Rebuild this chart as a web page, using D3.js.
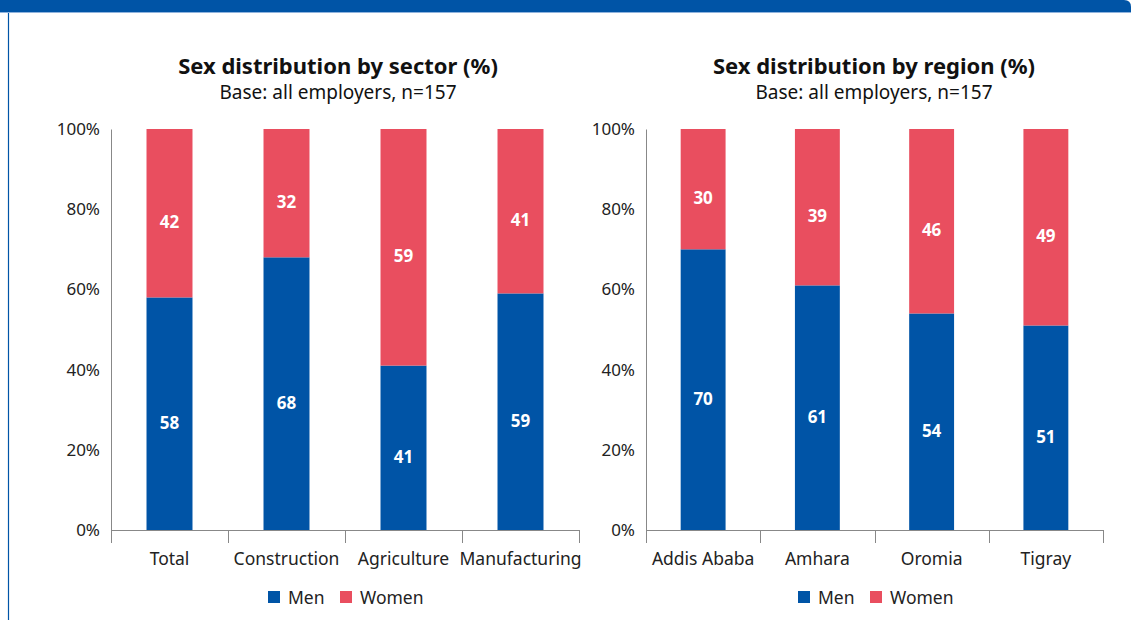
<!DOCTYPE html>
<html>
<head>
<meta charset="utf-8">
<script src="https://cdn.jsdelivr.net/npm/d3@7"></script>
<style>
  body { margin: 0; background: #fff; }
  svg { display: block; font-family: "Noto Sans", "Open Sans", sans-serif; }
</style>
</head>
<body>
<div id="chart"></div>
<script>
// data
const sectors = ["Total", "Construction", "Agriculture", "Manufacturing"];
const sectorMen = [58, 68, 41, 59];
const sectorWomen = [42, 32, 59, 41];

const regions = ["Addis Ababa", "Amhara", "Oromia", "Tigray"];
const regionMen = [70, 61, 54, 51];
const regionWomen = [30, 39, 46, 49];

const yTicks = [0, 20, 40, 60, 80, 100];
const seriesNames = ["Men", "Women"];

const blue = "#0054a6";
const pink = "#e94e5f";

const W = 1131, H = 620;
const svg = d3.select("#chart").append("svg")
  .attr("width", W)
  .attr("height", H);

// header bar + frame
svg.append("path")
  .attr("d", `M0,0 H1124 Q1131,0 1131,7 V12 H0 Z`)
  .attr("fill", blue);
svg.append("line")
  .attr("x1", 0).attr("x2", W).attr("y1", 12.5).attr("y2", 12.5)
  .attr("stroke", "#8fb3dd").attr("stroke-width", 1);
svg.append("line")
  .attr("x1", 8.5).attr("x2", 8.5).attr("y1", 13).attr("y2", H)
  .attr("stroke", blue).attr("stroke-width", 1.2);

const yScale = d3.scaleLinear().domain([0, 100]).range([530, 129]);

function panel(opts) {
  const { cats, men, women, x0, x1, title, cx, legendX } = opts;
  const g = svg.append("g");

  const x = d3.scaleBand()
    .domain(cats)
    .range([x0, x1])
    .paddingInner(0.607)
    .paddingOuter(0.3035);

  // titles
  g.append("text")
    .attr("x", cx).attr("y", 74)
    .attr("text-anchor", "middle")
    .style("font-size", "22px").style("font-weight", "bold").style("fill", "#111")
    .text(title);
  g.append("text")
    .attr("x", cx).attr("y", 99)
    .attr("text-anchor", "middle")
    .style("font-size", "19px").style("fill", "#111")
    .text("Base: all employers, n=157");

  // y axis
  const yAxis = d3.axisLeft(yScale)
    .tickValues(yTicks)
    .tickSize(0)
    .tickPadding(11)
    .tickFormat(d => d + "%");
  const ya = g.append("g")
    .attr("transform", `translate(${x0},0)`)
    .call(yAxis);
  ya.select(".domain").attr("stroke", "#888");
  ya.selectAll("text").style("font-size", "17px").style("fill", "#222")
    .style("font-family", "'Noto Sans', sans-serif");

  // stacked bars
  const rows = cats.map((c, i) => ({ cat: c, men: men[i], women: women[i] }));
  const stack = d3.stack().keys(["men", "women"])(rows);
  const colors = [blue, pink];

  stack.forEach((layer, li) => {
    g.selectAll(null)
      .data(layer)
      .enter()
      .append("rect")
      .attr("x", d => x(d.data.cat))
      .attr("width", x.bandwidth())
      .attr("y", d => yScale(d[1]))
      .attr("height", d => yScale(d[0]) - yScale(d[1]))
      .attr("fill", colors[li]);

    g.selectAll(null)
      .data(layer)
      .enter()
      .append("text")
      .attr("x", d => x(d.data.cat) + x.bandwidth() / 2)
      .attr("y", d => (yScale(d[0]) + yScale(d[1])) / 2 + 15)
      .attr("text-anchor", "middle")
      .style("font-size", "17px").style("font-weight", "bold").style("fill", "#fff")
      .text(d => d[1] - d[0]);
  });

  // x axis
  const xa = g.append("g")
    .attr("transform", "translate(0,530)")
    .call(d3.axisBottom(x).tickSize(0).tickPadding(23));
  xa.select(".domain").attr("stroke", "#888").attr("d", `M${x0},0.5H${x1}`);
  xa.selectAll("text").style("font-size", "17.5px").style("fill", "#222")
    .style("font-family", "'Noto Sans', sans-serif");
  const bounds = [x0].concat(cats.map(c => x(c) + x.bandwidth() / 2 + x.step() / 2));
  xa.selectAll(".sep")
    .data(bounds)
    .enter()
    .append("line")
    .attr("x1", d => Math.round(d) + 0.5).attr("x2", d => Math.round(d) + 0.5)
    .attr("y1", 0).attr("y2", 13)
    .attr("stroke", "#888");

  // legend
  const lg = g.append("g").attr("transform", `translate(${legendX},591)`);
  const offs = [0, 72];
  seriesNames.forEach((s, i) => {
    lg.append("rect")
      .attr("x", offs[i]).attr("y", 0)
      .attr("width", 12).attr("height", 12)
      .attr("fill", colors[i]);
    lg.append("text")
      .attr("x", offs[i] + 20).attr("y", 12.5)
      .style("font-size", "17.5px").style("fill", "#222")
      .text(s);
  });
}

panel({
  cats: sectors, men: sectorMen, women: sectorWomen,
  x0: 111, x1: 579, title: "Sex distribution by sector (%)", cx: 338, legendX: 268
});
panel({
  cats: regions, men: regionMen, women: regionWomen,
  x0: 646, x1: 1103, title: "Sex distribution by region (%)", cx: 874, legendX: 798
});
</script>
</body>
</html>
